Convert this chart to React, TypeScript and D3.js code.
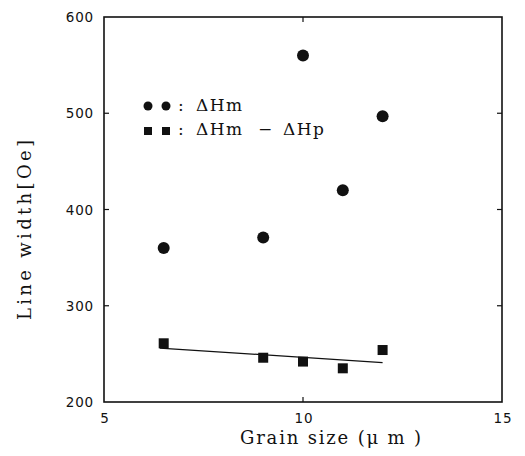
import React from "react";
import * as d3 from "d3";

const circleX = [6.5, 9, 10, 11, 12];
const circleY = [360, 371, 560, 420, 497];
const squareX = [6.5, 9, 10, 11, 12];
const squareY = [261, 246, 242, 235, 254];
const fitX = [6.4, 12];
const fitY = [256, 241];
const xTicks = [5, 10, 15];
const yTicks = [200, 300, 400, 500, 600];

const W = 525, H = 456;
const M = { left: 104, right: 502, top: 17, bottom: 402 };

export default function App() {
  const x = d3.scaleLinear().domain([5, 15]).range([M.left, M.right]);
  const y = d3.scaleLinear().domain([200, 600]).range([M.bottom, M.top]);
  const line = d3.line<[number, number]>().x(d => x(d[0])).y(d => y(d[1]));
  const fit: [number, number][] = fitX.map((v, i) => [v, fitY[i]]);
  const tickFont = { fontFamily: "DejaVu Sans", fontSize: 13.5, letterSpacing: 0.8, fill: "#111" } as const;
  const labelFont = { fontFamily: "DejaVu Serif", fontSize: 18, fill: "#111" } as const;
  const legFont = { fontFamily: "DejaVu Serif", fontSize: 17, letterSpacing: 1.5, fill: "#111" } as const;
  return (
    <svg width={W} height={H} style={{ position: "absolute", left: 0, top: 0, background: "#fff" }}>
      <rect x={M.left} y={M.top} width={M.right - M.left} height={M.bottom - M.top} fill="none" stroke="#111" strokeWidth={1.6} />
      {yTicks.slice(1, -1).map(t => (
        <g key={"yt" + t}>
          <line x1={M.left} x2={M.left + 5} y1={y(t)} y2={y(t)} stroke="#111" strokeWidth={1.2} />
          <line x1={M.right} x2={M.right - 5} y1={y(t)} y2={y(t)} stroke="#111" strokeWidth={1.2} />
        </g>
      ))}
      {xTicks.slice(1, -1).map(t => (
        <g key={"xt" + t}>
          <line x1={x(t)} x2={x(t)} y1={M.top} y2={M.top + 5} stroke="#111" strokeWidth={1.2} />
          <line x1={x(t)} x2={x(t)} y1={M.bottom} y2={M.bottom - 5} stroke="#111" strokeWidth={1.2} />
        </g>
      ))}
      {yTicks.map(t => (
        <text key={"yl" + t} x={M.left - 10} y={y(t) + 5} textAnchor="end" {...tickFont}>{t}</text>
      ))}
      {xTicks.map(t => (
        <text key={"xl" + t} x={x(t) + 1} y={M.bottom + 21} textAnchor="middle" {...tickFont}>{t}</text>
      ))}
      <path d={line(fit) || ""} fill="none" stroke="#111" strokeWidth={1.2} />
      {circleX.map((v, i) => (
        <circle key={"c" + i} cx={x(v)} cy={y(circleY[i])} r={6} fill="#111" />
      ))}
      {squareX.map((v, i) => (
        <rect key={"s" + i} x={x(v) - 5} y={y(squareY[i]) - 5} width={10} height={10} fill="#111" />
      ))}
      <circle cx={148} cy={106} r={4.5} fill="#111" />
      <circle cx={166} cy={106} r={4.5} fill="#111" />
      <rect x={144} y={127} width={8} height={8} fill="#111" />
      <rect x={162} y={127} width={8} height={8} fill="#111" />
      <text x={178} y={111} {...legFont}>:</text>
      <text x={178} y={135} {...legFont}>:</text>
      <text x={196} y={111} {...legFont}>ΔHm</text>
      <text x={196} y={135} {...legFont}>ΔHm</text>
      <text x={258} y={135} {...legFont}>−</text>
      <text x={283} y={135} {...legFont}>ΔHp</text>
      <text x={240} y={444} {...labelFont} textLength={181} lengthAdjust="spacing">Grain size (μ m )</text>
      <text transform={`translate(31, 320) rotate(-90)`} {...labelFont} textLength={180} lengthAdjust="spacing">Line width[Oe]</text>
    </svg>
  );
}
